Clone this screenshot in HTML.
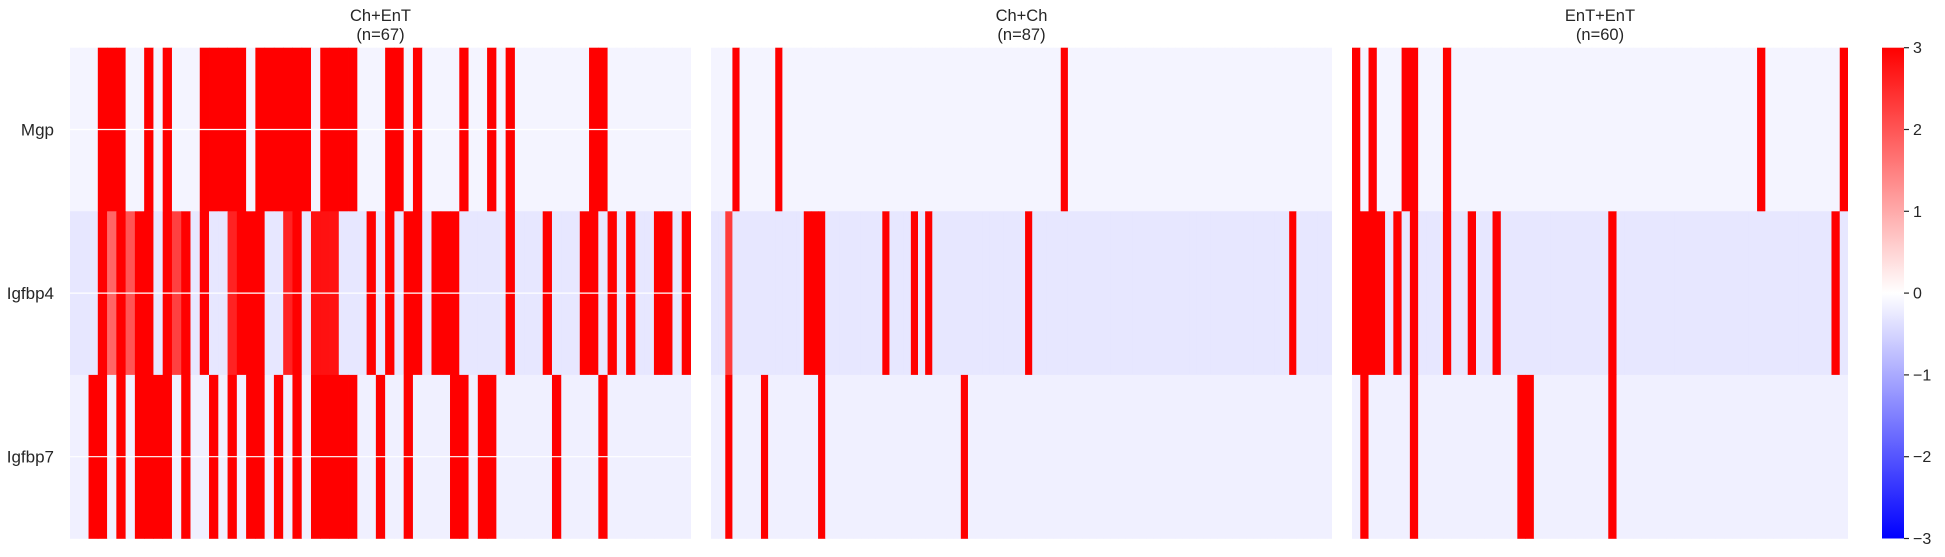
<!DOCTYPE html>
<html><head><meta charset="utf-8">
<style>
html,body{margin:0;padding:0;background:#fff;}
svg{display:block;font-family:"Liberation Sans",Arial,sans-serif;}
</style></head>
<body>
<svg id="chart" width="1945" height="557" viewBox="0 0 1945 557" xmlns="http://www.w3.org/2000/svg">
<defs>
<linearGradient id="bwr" x1="0" y1="0" x2="0" y2="1">
<stop offset="0" stop-color="#ff0000"/><stop offset="0.5" stop-color="#ffffff"/><stop offset="1" stop-color="#0000ff"/>
</linearGradient>
</defs>
<g id="panels"></g>
<g id="colorbar"></g>
</svg>
<script>
const genes = ["Mgp","Igfbp4","Igfbp7"];
const panelTitles = ["Ch+EnT","Ch+Ch","EnT+EnT"];
const panelCounts = ["(n=67)","(n=87)","(n=60)"];
const cbTicks = [3,2,1,0,-1,-2,-3];
const cbLabels = ["3","2","1","0","\u22121","\u22122","\u22123"];

const p1Mgp = [-.13,-.13,-.13,3,3,3,-.13,-.13,3,-.13, 3,-.13,-.13,-.13,3,3,3,3,3,-.13, 3,3,3,3,3,3,-.13,3,3,3, 3,-.13,-.13,-.13,3,3,-.13,3,-.13,-.13, -.13,-.13,3,-.13,-.13,3,-.13,3,-.13,-.13, -.13,-.13,-.13,-.13,-.13,-.13,3,3,-.13,-.13, -.13,-.13,-.13,-.13,-.13,-.13,-.13];
const p1Igfbp4 = [-.28,-.28,-.28,3,1.8,3,2,3,3,-.28, 3,2.25,3,-.28,3,-.28,-.28,2.6,3,3, 3,-.28,-.28,2.6,3,-.28,2.8,2.8,2.8,-.28, -.28,-.28,3,-.28,3,-.28,3,3,-.28,3, 3,3,-.28,-.28,-.28,-.28,-.28,3,-.28,-.28, -.28,3,-.28,-.28,-.28,3,3,-.28,3,-.28, 3,-.28,-.28,3,3,-.28,3];
const p1Igfbp7 = [-.18,-.18,3,3,-.18,3,-.18,3,3,3, 3,-.18,3,-.18,-.18,3,-.18,3,-.18,3, 3,-.18,3,-.18,3,-.18,3,3,3,3, 3,-.18,-.18,3,-.18,-.18,3,-.18,-.18,-.18, -.18,3,3,-.18,3,3,-.18,-.18,-.18,-.18, -.18,-.18,3,-.18,-.18,-.18,-.18,3,-.18,-.18, -.18,-.18,-.18,-.18,-.18,-.18,-.18];

const p2Mgp = [-.13,-.13,-.13,3,-.13,-.13,-.13,-.13,-.13,3, -.13,-.13,-.13,-.13,-.13,-.13,-.13,-.13,-.13,-.13, -.13,-.13,-.13,-.13,-.13,-.13,-.13,-.13,-.13,-.13, -.13,-.13,-.13,-.13,-.13,-.13,-.13,-.13,-.13,-.13, -.13,-.13,-.13,-.13,-.13,-.13,-.13,-.13,-.13,3, -.13,-.13,-.13,-.13,-.13,-.13,-.13,-.13,-.13,-.13, -.13,-.13,-.13,-.13,-.13,-.13,-.13,-.13,-.13,-.13, -.13,-.13,-.13,-.13,-.13,-.13,-.13,-.13,-.13,-.13, -.13,-.13,-.13,-.13,-.13,-.13,-.13];
const p2Igfbp4 = [-.28,-.28,2.3,-.28,-.28,-.28,-.28,-.28,-.28,-.28, -.28,-.28,-.28,3,3,3,-.28,-.28,-.28,-.28, -.28,-.28,-.28,-.28,3,-.28,-.28,-.28,3,-.28, 3,-.28,-.28,-.28,-.28,-.28,-.28,-.28,-.28,-.28, -.28,-.28,-.28,-.28,3,-.28,-.28,-.28,-.28,-.28, -.28,-.28,-.28,-.28,-.28,-.28,-.28,-.28,-.28,-.28, -.28,-.28,-.28,-.28,-.28,-.28,-.28,-.28,-.28,-.28, -.28,-.28,-.28,-.28,-.28,-.28,-.28,-.28,-.28,-.28, -.28,3,-.28,-.28,-.28,-.28,-.28];
const p2Igfbp7 = [-.18,-.18,3,-.18,-.18,-.18,-.18,3,-.18,-.18, -.18,-.18,-.18,-.18,-.18,3,-.18,-.18,-.18,-.18, -.18,-.18,-.18,-.18,-.18,-.18,-.18,-.18,-.18,-.18, -.18,-.18,-.18,-.18,-.18,3,-.18,-.18,-.18,-.18, -.18,-.18,-.18,-.18,-.18,-.18,-.18,-.18,-.18,-.18, -.18,-.18,-.18,-.18,-.18,-.18,-.18,-.18,-.18,-.18, -.18,-.18,-.18,-.18,-.18,-.18,-.18,-.18,-.18,-.18, -.18,-.18,-.18,-.18,-.18,-.18,-.18,-.18,-.18,-.18, -.18,-.18,-.18,-.18,-.18,-.18,-.18];

const p3Mgp = [3,-.13,3,-.13,-.13,-.13,3,3,-.13,-.13, -.13,3,-.13,-.13,-.13,-.13,-.13,-.13,-.13,-.13, -.13,-.13,-.13,-.13,-.13,-.13,-.13,-.13,-.13,-.13, -.13,-.13,-.13,-.13,-.13,-.13,-.13,-.13,-.13,-.13, -.13,-.13,-.13,-.13,-.13,-.13,-.13,-.13,-.13,3, -.13,-.13,-.13,-.13,-.13,-.13,-.13,-.13,-.13,3];
const p3Igfbp4 = [3,3,3,3,-.28,3,-.28,3,-.28,-.28, -.28,3,-.28,-.28,3,-.28,-.28,3,-.28,-.28, -.28,-.28,-.28,-.28,-.28,-.28,-.28,-.28,-.28,-.28, -.28,3,-.28,-.28,-.28,-.28,-.28,-.28,-.28,-.28, -.28,-.28,-.28,-.28,-.28,-.28,-.28,-.28,-.28,-.28, -.28,-.28,-.28,-.28,-.28,-.28,-.28,-.28,3,-.28];
const p3Igfbp7 = [-.18,3,-.18,-.18,-.18,-.18,-.18,3,-.18,-.18, -.18,-.18,-.18,-.18,-.18,-.18,-.18,-.18,-.18,-.18, 3,3,-.18,-.18,-.18,-.18,-.18,-.18,-.18,-.18, -.18,3,-.18,-.18,-.18,-.18,-.18,-.18,-.18,-.18, -.18,-.18,-.18,-.18,-.18,-.18,-.18,-.18,-.18,-.18, -.18,-.18,-.18,-.18,-.18,-.18,-.18,-.18,-.18,-.18];

const panelData = [[p1Mgp,p1Igfbp4,p1Igfbp7],[p2Mgp,p2Igfbp4,p2Igfbp7],[p3Mgp,p3Igfbp4,p3Igfbp7]];
const panelBox = [[70,691],[711,1332],[1352,1848]];
const TOP = 47.7, BOT = 538.5;
const NS = "http://www.w3.org/2000/svg";

function bwr(v){
  v = Math.max(-3, Math.min(3, v));
  let r,g,b;
  if (v >= 0){ const t = 1 - v/3; r=255; g=Math.round(255*t); b=Math.round(255*t); }
  else { const t = (v+3)/3; r=Math.round(255*t); g=Math.round(255*t); b=255; }
  return `rgb(${r},${g},${b})`;
}
function mk(tag, attrs){ const e=document.createElementNS(NS,tag); for(const k in attrs) e.setAttribute(k, attrs[k]); return e; }

const panels = document.getElementById('panels');
const rowH = (BOT-TOP)/genes.length;
function yScale(i){ return TOP + i*rowH; }

panelData.forEach((rows, p) => {
  const [x0,x1] = panelBox[p];
  const n = rows[0].length;
  const cw = (x1-x0)/n;
  const xScale = j => x0 + j*cw;
  const g = mk('g',{});
  
  
  panels.appendChild(g);
  rows.forEach((vals, r) => {
    vals.forEach((v, j) => {
      const w = (j === n-1) ? cw : cw + 0.4;
      const rect = mk('rect',{x:xScale(j).toFixed(2), y:yScale(r).toFixed(2), width:w.toFixed(2), height:(rowH+0.3).toFixed(2), fill:bwr(v)});
      
      
      g.appendChild(rect);
    });
  });
  const cx = (x0+x1)/2;
  const t1 = mk('text',{x:cx, y:21, 'text-anchor':'middle', 'font-size':'16.5', fill:'#262626'});
  t1.textContent = panelTitles[p];
  
  
  g.appendChild(t1);
  const t2 = mk('text',{x:cx, y:40, 'text-anchor':'middle', 'font-size':'16.5', fill:'#262626'});
  t2.textContent = panelCounts[p];
  
  
  g.appendChild(t2);
  if (p === 0){
    genes.forEach((gn, r) => {
      const yc = yScale(r) + rowH/2;
      const line = mk('line',{x1:x0, x2:x1, y1:yc, y2:yc, stroke:'#ffffff', 'stroke-width':'1.2'});
      
      
      g.appendChild(line);
      const lab = mk('text',{x:54, y:yc+6, 'text-anchor':'end', 'font-size':'17', fill:'#262626'});
      lab.textContent = gn;
      
      
      g.appendChild(lab);
    });
  }
});

const cb = document.getElementById('colorbar');
const cbX = 1882, cbW = 22;
const bar = mk('rect',{x:cbX, y:TOP, width:cbW, height:BOT-TOP, fill:'url(#bwr)'});


cb.appendChild(bar);
const cbScale = v => TOP + (3 - v)/6*(BOT-TOP);
cbTicks.forEach((v, i) => {
  const y = cbScale(v);
  const tk = mk('line',{x1:cbX+cbW, x2:cbX+cbW+5, y1:y, y2:y, stroke:'#262626', 'stroke-width':'1.2'});
  
  
  cb.appendChild(tk);
  const tl = mk('text',{x:cbX+cbW+9, y:y+5.5, 'font-size':'16', fill:'#262626'});
  tl.textContent = cbLabels[i];
  
  
  cb.appendChild(tl);
});
</script>
</body></html>
